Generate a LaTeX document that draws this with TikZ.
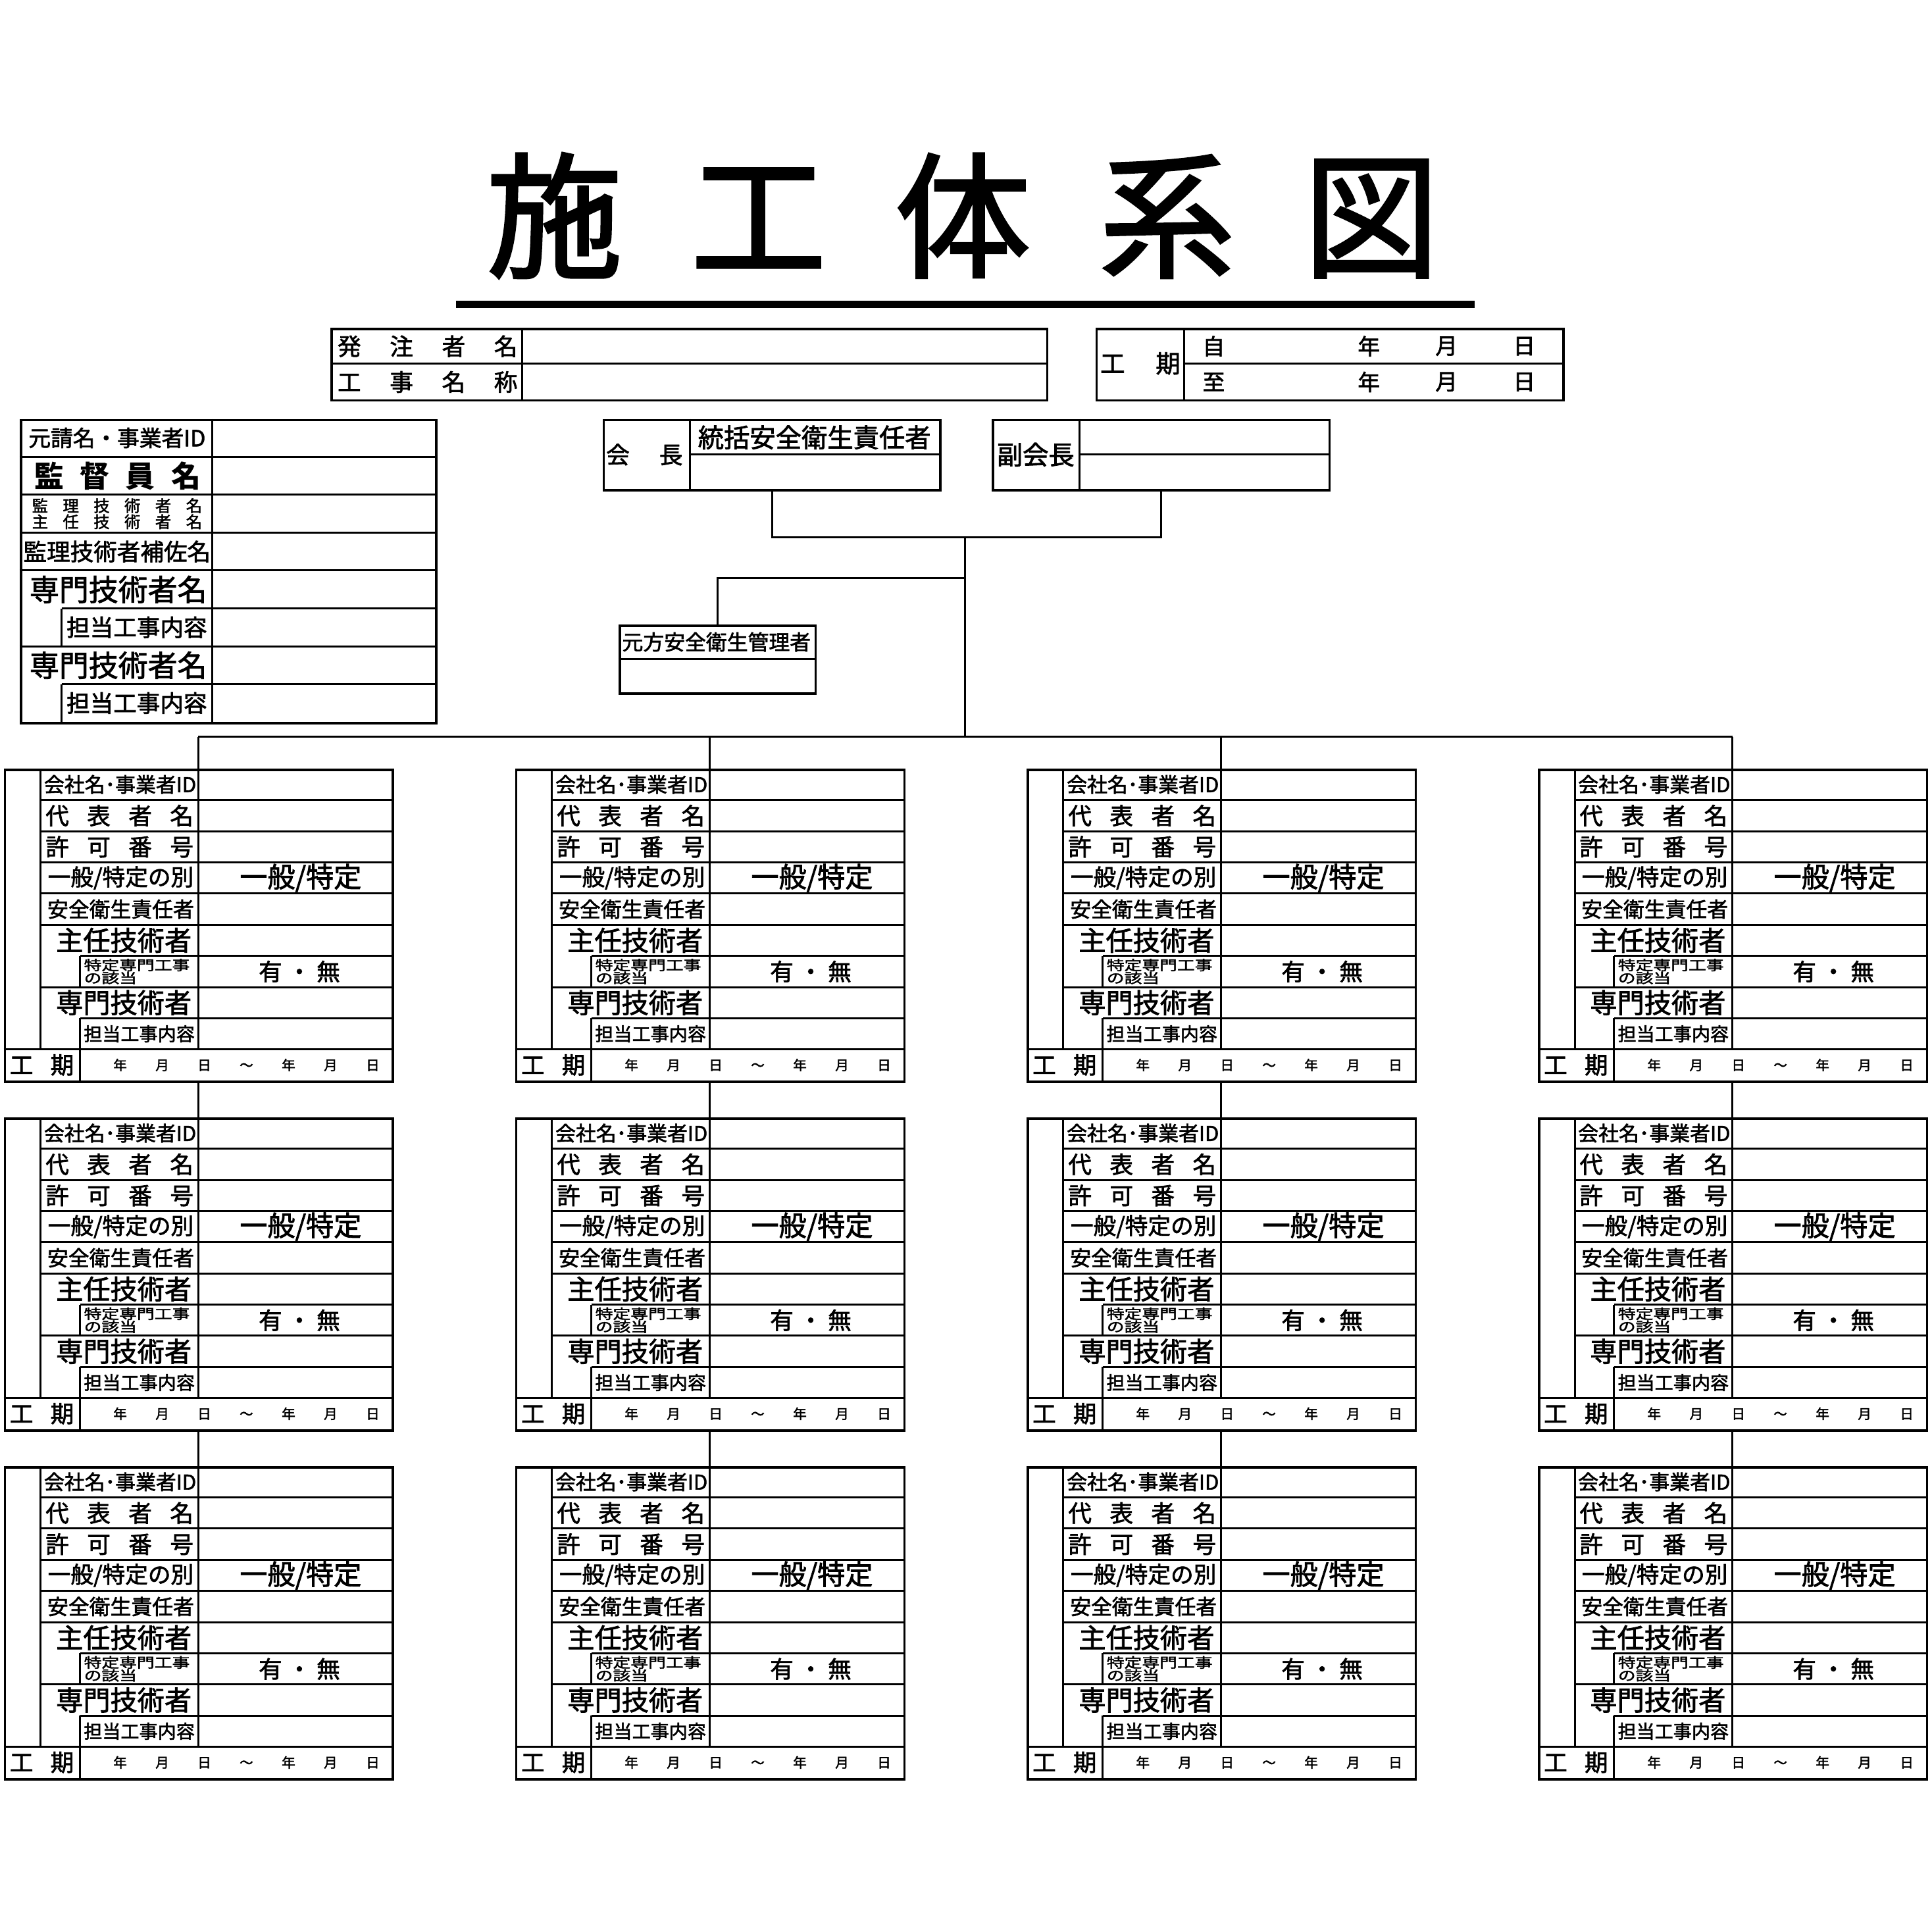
\documentclass[tikz,border=0pt]{standalone}
\usepackage{fontspec}
\setmainfont{Noto Sans CJK JP}[UprightFeatures={FakeBold=2}]
\usetikzlibrary{positioning,calc}

\newcommand{\spread}[2]{\makebox[#1]{#2}}

\tikzset{
  frame/.style={draw=black, line width=2pt, inner sep=0pt, anchor=north west},
  rule/.style={line width=1.6pt},
  wire/.style={line width=1.5pt},
  lab/.style={inner sep=0pt, font=\fontsize{#1}{#1}\selectfont},
}

% one subcontractor table: #1 x, #2 y, #3 name
\newcommand{\subcon}[3]{%
  \begin{scope}[shift={(#1,#2)}]
    \node[frame, minimum width=315pt, minimum height=253pt] (#3) at (0,0) {};
    \coordinate (#3tap) at (158,0);
    \coordinate (#3foot) at (158,253);
    \draw[rule] (30,0) -- (30,227.7);
    \draw[rule] (158,0) -- (158,227.7);
    \foreach \i in {1,...,5} \draw[rule] (30,{\i*25.3}) -- (315,{\i*25.3});
    \draw[rule] (62,151.8) -- (315,151.8);
    \draw[rule] (30,177.1) -- (315,177.1);
    \draw[rule] (62,202.4) -- (315,202.4);
    \draw[rule] (0,227.7) -- (315,227.7);
    \draw[rule] (62,151.8) -- (62,177.1);
    \draw[rule] (62,202.4) -- (62,253);
    \node[lab=16.5] (#3-id) at (94.5,12.65) {会社名･事業者ID};
    \node[lab=19] (#3-rep) at (94,37.95) {\spread{120pt}{代\hfill 表\hfill 者\hfill 名}};
    \node[lab=19] (#3-lic) at (94,63.25) {\spread{120pt}{許\hfill 可\hfill 番\hfill 号}};
    \node[lab=18.5] (#3-kind) at (95,88.55) {一般/特定の別};
    \node[lab=22.5] (#3-kindv) at (241,88.55) {一般/特定};
    \node[lab=17] (#3-safe) at (95,113.85) {安全衛生責任者};
    \node[lab=22] (#3-chief) at (97.5,139.15) {主任技術者};
    \node[inner sep=0pt, anchor=west, align=left, font=\fontsize{11}{10.5}\selectfont] (#3-spec) at (65,164.45)
      {\scalebox{1.3}[1]{特定専門工事}\\\scalebox{1.3}[1]{の該当}};
    \node[lab=19] (#3-yn) at (240,164.45) {\spread{66pt}{有\hfill ・\hfill 無}};
    \node[lab=22] (#3-pro) at (97.5,189.75) {専門技術者};
    \node[lab=15] (#3-work) at (110,215.05) {担当工事内容};
    \node[lab=19] (#3-term) at (31,240.35) {\spread{52pt}{工\hfill 期}};
    \node[lab=11] (#3-date) at (197,240.35) {\spread{216pt}{年\hfill 月\hfill 日\hfill ～\hfill 年\hfill 月\hfill 日}};
  \end{scope}}

\begin{document}
\begin{tikzpicture}[x=1pt, y=-1pt]
  \useasboundingbox[fill=white] (0,0) rectangle (1568,1568);

  % title
  \node[lab=110] (title) at (781.5,175) {\spread{773pt}{施\hfill 工\hfill 体\hfill 系\hfill 図}};
  \draw[line width=6pt] (370,247) -- (1197,247);

  % client / project name
  \node[frame, minimum width=581pt, minimum height=58pt] (client) at (268,266) {};
  \draw[rule] (268,295) -- (849,295);
  \draw[rule] (424,266) -- (424,324);
  \node[lab=19] (client-a) at (347,281) {\spread{146pt}{発\hfill 注\hfill 者\hfill 名}};
  \node[lab=19] (client-b) at (347,310) {\spread{146pt}{工\hfill 事\hfill 名\hfill 称}};

  % term
  \node[frame, minimum width=379pt, minimum height=58pt] (term) at (889,266) {};
  \draw[rule] (961,266) -- (961,324);
  \draw[rule] (961,295) -- (1268,295);
  \node[lab=20] (term-a) at (925.5,295) {\spread{65pt}{工\hfill 期}};
  \node[lab=18] (term-from) at (985,281) {自};
  \node[lab=18] (term-to) at (985,310) {至};
  \foreach \yy/\nm in {281/f,310/t} {
    \node[lab=18] (term-\nm y) at (1111,\yy) {年};
    \node[lab=18] (term-\nm m) at (1174,\yy) {月};
    \node[lab=18] (term-\nm d) at (1237,\yy) {日};
  }

  % prime contractor
  \node[frame, minimum width=337pt, minimum height=246pt] (prime) at (16,340) {};
  \draw[rule] (172,340) -- (172,586);
  \foreach \yy in {370.75,401.5,432.25,463,524.5} \draw[rule] (16,\yy) -- (353,\yy);
  \draw[rule] (50,493.75) -- (353,493.75);
  \draw[rule] (50,555.25) -- (353,555.25);
  \draw[rule] (50,493.75) -- (50,524.5);
  \draw[rule] (50,555.25) -- (50,586);
  \node[lab=18] (prime-id) at (95,355.4) {元請名・事業者ID};
  \node[inner sep=0pt, font=\fontsize{24}{24}\selectfont\bfseries] (prime-sup) at (95.5,386.1) {\spread{135pt}{監\hfill 督\hfill 員\hfill 名}};
  \node[inner sep=0pt, align=center, font=\fontsize{13}{13}\selectfont] (prime-eng) at (95,416.9)
    {\spread{138pt}{監\hfill 理\hfill 技\hfill 術\hfill 者\hfill 名}\\\spread{138pt}{主\hfill 任\hfill 技\hfill 術\hfill 者\hfill 名}};
  \node[lab=19] (prime-asst) at (95,447.6) {監理技術者補佐名};
  \node[lab=24] (prime-pro1) at (96,478.4) {専門技術者名};
  \node[lab=19] (prime-work1) at (111,509.1) {担当工事内容};
  \node[lab=24] (prime-pro2) at (96,539.9) {専門技術者名};
  \node[lab=19] (prime-work2) at (111,570.6) {担当工事内容};

  % chairman / vice chairman
  \node[frame, minimum width=273pt, minimum height=57pt] (kaicho) at (489,340) {};
  \draw[rule] (560,340) -- (560,397);
  \draw[rule] (560,369) -- (762,369);
  \node[lab=19] (kaicho-a) at (523,369) {\spread{62pt}{会\hfill 長}};
  \node[lab=21] (kaicho-b) at (661,355) {統括安全衛生責任者};

  \node[frame, minimum width=273pt, minimum height=57pt] (fukukaicho) at (805,340) {};
  \draw[rule] (876,340) -- (876,397);
  \draw[rule] (876,369) -- (1078,369);
  \node[lab=21] (fukukaicho-a) at (840.5,369) {副会長};

  % safety manager
  \node[frame, minimum width=159pt, minimum height=55pt] (motokata) at (502,507) {};
  \draw[rule] (502,535) -- (661,535);
  \node[lab=17] (motokata-a) at (581.5,521) {元方安全衛生管理者};

  % subcontractors
  \foreach \col/\xx in {1/3,2/418,3/833,4/1248} {
    \foreach \rw/\yy in {1/624,2/907,3/1190} {
      \subcon{\xx}{\yy}{blk\col\rw}
    }
  }

  % connectors
  \coordinate (hub) at (783,436);
  \coordinate (branch) at (783,469);
  \coordinate (bus) at (783,598);
  \draw[wire] (kaicho.south) |- (hub) -| (fukukaicho.south);
  \draw[wire] (hub) -- (bus);
  \draw[wire] (branch) -| (motokata.north);
  \draw[wire] (blk11tap |- bus) -- (blk41tap |- bus);
  \foreach \col in {1,...,4} {
    \draw[wire] (blk\col1tap |- bus) -- (blk\col1tap);
    \draw[wire] (blk\col1foot) -- (blk\col2tap);
    \draw[wire] (blk\col2foot) -- (blk\col3tap);
  }
\end{tikzpicture}
\end{document}
